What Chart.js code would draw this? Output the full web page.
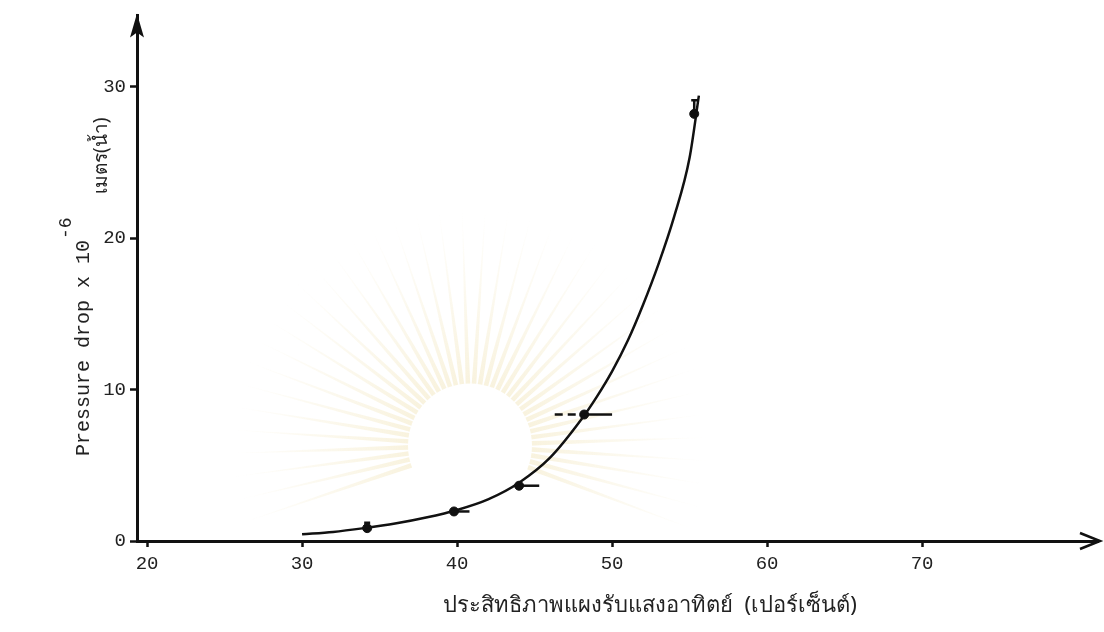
<!DOCTYPE html>
<html>
<head>
<meta charset="utf-8">
<script src="https://cdn.jsdelivr.net/npm/chart.js@4/dist/chart.umd.min.js"></script>
<style>
  html, body { margin: 0; padding: 0; background: #fff; }
  #wrap { width: 1104px; height: 632px; position: relative; }
</style>
</head>
<body>
<div id="wrap"><canvas id="chart" width="1104" height="632"></canvas></div>
<script>
// measured points (efficiency %, pressure drop)
const pointX = [34.2, 39.8, 44.0, 48.2, 55.3];
const pointY = [0.85, 1.95, 3.65, 8.35, 28.2];
// error bar extents
const xErrLo = [0, 0, 0, 1.9, 0];
const xErrHi = [0, 1.0, 1.3, 1.8, 0];
const yErrHi = [0.35, 0, 0, 0, 0.9];

// fitted curve
const curveX = [30, 32, 34, 36, 38, 40, 42, 44, 46, 48, 49, 50, 51, 52, 53, 54, 55, 55.6];
const curveY = [0.45, 0.6, 0.85, 1.15, 1.55, 2.05, 2.75, 3.85, 5.5, 8.0, 9.5, 11.2, 13.2, 15.6, 18.3, 21.4, 25.3, 29.4];

const xTicks = [20, 30, 40, 50, 60, 70];
const yTicks = [0, 10, 20, 30];

const MONO = '"Liberation Mono", "DejaVu Sans Mono", monospace';
const THAI = '"Noto Sans", "DejaVu Sans", sans-serif';
const INK = '#111';

const toXY = (xs, ys) => xs.map((x, i) => ({ x, y: ys[i] }));

// faint sunburst emblem behind the plot
const sunburst = {
    id: 'sunburst',
    beforeDatasetsDraw(chart) {
        const { ctx, chartArea: a } = chart;
        const cx = a.left + 333, cy = a.top + 430;
        ctx.save();
        const n = 40;
        for (let i = 0; i < n; i++) {
            const ang = Math.PI + (i + 0.5) * (Math.PI / (n - 8)) - Math.PI * 0.12;
            const w = Math.PI / n * 0.5;
            const g = ctx.createRadialGradient(cx, cy, 50, cx, cy, 240);
            g.addColorStop(0, 'rgba(240,226,178,0.45)');
            g.addColorStop(1, 'rgba(240,226,178,0)');
            ctx.fillStyle = g;
            ctx.beginPath();
            ctx.moveTo(cx + Math.cos(ang - w) * 60, cy + Math.sin(ang - w) * 60);
            ctx.lineTo(cx + Math.cos(ang) * 245, cy + Math.sin(ang) * 245);
            ctx.lineTo(cx + Math.cos(ang + w) * 60, cy + Math.sin(ang + w) * 60);
            ctx.closePath();
            ctx.fill();
        }
        ctx.fillStyle = '#fff';
        ctx.beginPath();
        ctx.arc(cx, cy, 62, 0, Math.PI * 2);
        ctx.fill();
        ctx.restore();
    }
};

// error bars, axis arrowheads and the y-axis title
const extras = {
    id: 'extras',
    afterDatasetsDraw(chart) {
        const { ctx, chartArea: a, scales: { x, y } } = chart;
        ctx.save();
        ctx.strokeStyle = INK;
        ctx.lineWidth = 2.5;
        pointX.forEach((px, i) => {
            const cx = x.getPixelForValue(px), cy = y.getPixelForValue(pointY[i]);
            if (xErrHi[i]) {
                ctx.beginPath();
                ctx.moveTo(cx, cy);
                ctx.lineTo(x.getPixelForValue(px + xErrHi[i]), cy);
                ctx.stroke();
            }
            if (xErrLo[i]) {
                ctx.setLineDash([8, 5]);
                ctx.beginPath();
                ctx.moveTo(x.getPixelForValue(px - xErrLo[i]), cy);
                ctx.lineTo(cx, cy);
                ctx.stroke();
                ctx.setLineDash([]);
            }
            if (yErrHi[i]) {
                const top = y.getPixelForValue(pointY[i] + yErrHi[i]);
                ctx.beginPath();
                ctx.moveTo(cx, cy);
                ctx.lineTo(cx, top);
                ctx.moveTo(cx - 3, top);
                ctx.lineTo(cx + 3, top);
                ctx.stroke();
            }
        });

        // arrowheads
        ctx.fillStyle = INK;
        ctx.beginPath();
        ctx.moveTo(a.left, a.top - 2);
        ctx.lineTo(a.left - 7, a.top + 22);
        ctx.lineTo(a.left, a.top + 17);
        ctx.lineTo(a.left + 7, a.top + 22);
        ctx.closePath();
        ctx.fill();
        ctx.lineWidth = 2.5;
        ctx.beginPath();
        ctx.moveTo(a.right - 18, a.bottom - 8);
        ctx.lineTo(a.right + 2, a.bottom);
        ctx.lineTo(a.right - 18, a.bottom + 8);
        ctx.stroke();

        // y title, rotated
        ctx.fillStyle = '#222';
        ctx.translate(84, 456);
        ctx.rotate(-Math.PI / 2);
        ctx.font = `20px ${MONO}`;
        ctx.textBaseline = 'middle';
        ctx.textAlign = 'left';
        const main = 'Pressure drop x 10';
        ctx.fillText(main, 0, 0);
        const w = ctx.measureText(main).width;
        ctx.font = `18px ${MONO}`;
        ctx.fillText('-6', w + 1, -18);
        ctx.font = `19px ${THAI}`;
        ctx.fillText('เมตร(น้ำ)', 262, 18);
        ctx.restore();
    }
};

new Chart(document.getElementById('chart'), {
    type: 'scatter',
    data: {
        datasets: [
            {
                label: 'curve',
                type: 'line',
                data: toXY(curveX, curveY),
                borderColor: INK,
                borderWidth: 2.5,
                pointRadius: 0,
                cubicInterpolationMode: 'monotone',
                fill: false
            },
            {
                label: 'measured',
                data: toXY(pointX, pointY),
                backgroundColor: INK,
                borderColor: INK,
                pointRadius: 4.5
            }
        ]
    },
    options: {
        responsive: false,
        animation: false,
        layout: { padding: { top: 10, right: 6, left: 0, bottom: 0 } },
        plugins: { legend: { display: false }, tooltip: { enabled: false } },
        scales: {
            x: {
                type: 'linear',
                min: 19.35,
                max: 81.35,
                afterFit: s => { s.height = 91; },
                afterBuildTicks: s => { s.ticks = xTicks.map(v => ({ value: v })); },
                border: { color: INK, width: 3 },
                grid: { drawOnChartArea: false, tickLength: 6, tickWidth: 2.5, color: INK },
                ticks: { color: '#222', padding: 6, font: { family: MONO, size: 19 } }
            },
            y: {
                min: 0,
                max: 34.7,
                afterFit: s => { s.width = 137; },
                afterBuildTicks: s => { s.ticks = yTicks.map(v => ({ value: v })); },
                border: { color: INK, width: 3 },
                grid: { drawOnChartArea: false, tickLength: 7, tickWidth: 2.5, color: INK },
                ticks: { color: '#222', padding: 4, font: { family: MONO, size: 19 } }
            }
        }
    },
    plugins: [sunburst, extras,
        {
            id: 'xTitle',
            afterDraw(chart) {
                const { ctx } = chart;
                ctx.save();
                ctx.fillStyle = '#222';
                ctx.font = `22px ${THAI}`;
                ctx.textAlign = 'center';
                ctx.textBaseline = 'middle';
                ctx.fillText('ประสิทธิภาพแผงรับแสงอาทิตย์  (เปอร์เซ็นต์)', 650, 606);
                ctx.restore();
            }
        }
    ]
});
</script>
</body>
</html>
